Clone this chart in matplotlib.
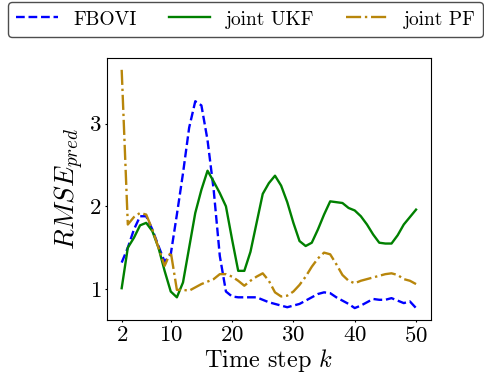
import matplotlib
matplotlib.use('Agg')
import matplotlib.pyplot as plt
import numpy as np

plt.rcParams['font.family'] = 'serif'
plt.rcParams['font.serif'] = ['cmr10']
plt.rcParams['mathtext.fontset'] = 'cm'
plt.rcParams['axes.formatter.use_mathtext'] = True

steps = np.arange(2, 51)

# RMSE of prediction
fbovi = [1.32, 1.50, 1.72, 1.88, 1.88, 1.72, 1.52, 1.33, 1.42, 1.90,
         2.40, 2.95, 3.27, 3.22, 2.80, 2.20, 1.40, 0.97, 0.91, 0.90,
         0.90, 0.90, 0.90, 0.87, 0.84, 0.82, 0.80, 0.78, 0.80, 0.82,
         0.86, 0.90, 0.94, 0.96, 0.95, 0.90, 0.86, 0.82, 0.77, 0.80,
         0.84, 0.88, 0.87, 0.87, 0.89, 0.86, 0.83, 0.85, 0.77]
joint_ukf = [1.01, 1.50, 1.62, 1.77, 1.80, 1.70, 1.50, 1.22, 0.97, 0.90,
             1.08, 1.50, 1.92, 2.20, 2.43, 2.30, 2.16, 2.00, 1.60, 1.22,
             1.22, 1.45, 1.80, 2.15, 2.28, 2.37, 2.25, 2.05, 1.80, 1.58,
             1.52, 1.56, 1.72, 1.90, 2.06, 2.05, 2.04, 1.98, 1.95, 1.88,
             1.78, 1.66, 1.56, 1.55, 1.55, 1.65, 1.78, 1.87, 1.96]
joint_pf = [3.65, 1.78, 1.87, 1.92, 1.90, 1.72, 1.50, 1.28, 1.45, 0.99,
            0.99, 0.98, 1.02, 1.06, 1.09, 1.12, 1.18, 1.18, 1.15, 1.10,
            1.04, 1.10, 1.15, 1.19, 1.10, 0.96, 0.91, 0.92, 0.97, 1.05,
            1.15, 1.27, 1.37, 1.44, 1.42, 1.30, 1.17, 1.10, 1.07, 1.10,
            1.12, 1.14, 1.16, 1.18, 1.19, 1.17, 1.12, 1.10, 1.06]

xticks = [2, 10, 20, 30, 40, 50]
yticks = [1, 2, 3]

fig = plt.figure(figsize=(4.84, 3.76), dpi=100)
ax = fig.add_axes([0.221, 0.149, 0.669, 0.697])

ax.plot(steps, fbovi, color='b', linestyle='--', linewidth=1.7, label='FBOVI')
ax.plot(steps, joint_ukf, color='g', linestyle='-', linewidth=1.7, label='joint UKF')
ax.plot(steps, joint_pf, color='darkgoldenrod', linestyle='-.', linewidth=1.7, label='joint PF')

ax.set_xticks(xticks)
ax.set_yticks(yticks)
ax.tick_params(labelsize=16.5, length=1.5, pad=2.5)
ax.set_xlabel('Time step $k$', fontsize=17.5, labelpad=1)
ax.set_ylabel('$RMSE_{pred}$', fontsize=19.5, labelpad=2)

fig.legend(loc='upper left', bbox_to_anchor=(8 / 484, 1 - 2 / 376), ncol=3,
           borderaxespad=0, borderpad=0.4, fontsize=14, handlelength=2.15,
           handleheight=1.0, handletextpad=0.8, columnspacing=1.65,
           framealpha=1, edgecolor='0.3')

fig.savefig('out.png', dpi=100)
